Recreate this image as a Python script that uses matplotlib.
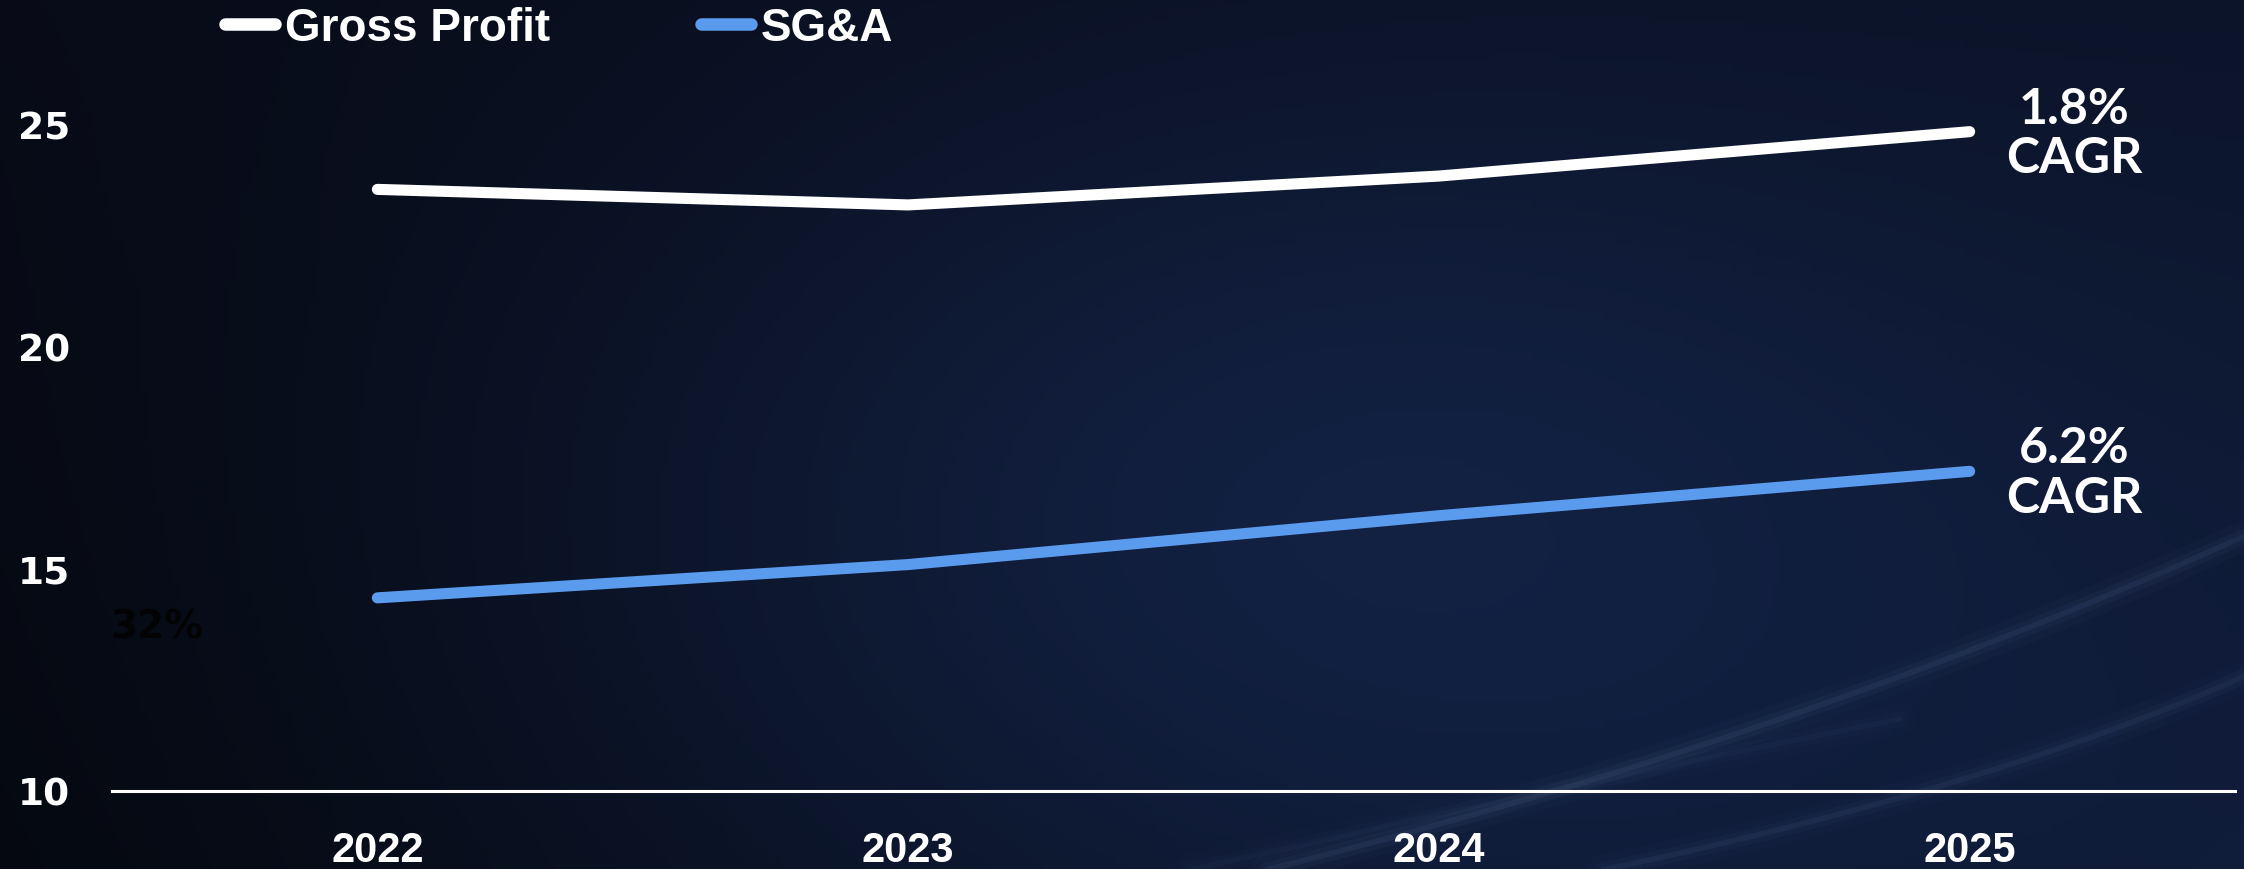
import matplotlib.pyplot as plt
import numpy as np
from matplotlib.colors import to_rgb

# data
years = ["2022", "2023", "2024", "2025"]
gross_profit = [23.55, 23.2, 23.85, 24.85]
sga = [14.35, 15.1, 16.2, 17.2]
cagr_labels = ["1.8%\nCAGR", "6.2%\nCAGR"]
y_ticks = [10, 15, 20, 25]

W, H = 2244, 870
fig = plt.figure(figsize=(W / 100, H / 100), dpi=100)

# background: dark navy gradient with a soft glow and a few light streaks
bg = fig.add_axes([0, 0, 1, 1], zorder=0)
bg.set_axis_off()
xx, yy = np.meshgrid(np.linspace(0, 1, 400), np.linspace(0, 1, 160))
tl, tr = np.array(to_rgb("#080b17")), np.array(to_rgb("#0b1327"))
bl, br = np.array(to_rgb("#05080f")), np.array(to_rgb("#0e1a36"))
img = ((1 - xx)[..., None] * (1 - yy)[..., None] * tl + xx[..., None] * (1 - yy)[..., None] * tr
       + (1 - xx)[..., None] * yy[..., None] * bl + xx[..., None] * yy[..., None] * br)
glow = np.exp(-(((xx - 0.58) / 0.35) ** 2 + ((yy - 0.6) / 0.55) ** 2))
img = img + glow[..., None] * (np.array(to_rgb("#101c38")) - np.array(to_rgb("#080d1a")))
bg.imshow(np.clip(img, 0, 1), extent=(0, W, H, 0), aspect="auto")
t = np.linspace(0, 1, 100)
for p0, p1, p2, a in [((1230, 880), (1800, 740), (2260, 530), 0.07),
                      ((1560, 880), (2000, 790), (2260, 670), 0.06),
                      ((1150, 880), (1500, 800), (1900, 720), 0.03)]:
    cx = (1 - t) ** 2 * p0[0] + 2 * (1 - t) * t * p1[0] + t ** 2 * p2[0]
    cy = (1 - t) ** 2 * p0[1] + 2 * (1 - t) * t * p1[1] + t ** 2 * p2[1]
    for lw, al in [(22, a * 0.35), (11, a * 0.6), (4, a)]:
        bg.plot(cx, cy, color="#8fb0e0", lw=lw, alpha=al, solid_capstyle="round")
bg.set_xlim(0, W)
bg.set_ylim(H, 0)

# main chart
ax = fig.add_axes([112 / W, 78 / H, (2235 - 112) / W, 777 / H], zorder=1)
ax.patch.set_alpha(0)
x = np.arange(len(years))
ax.plot(x, gross_profit, color="white", lw=8, solid_capstyle="round", label="Gross Profit")
ax.plot(x, sga, color="#5a9bee", lw=8, solid_capstyle="round", label="SG&A")

ax.set_xlim(-0.5, 3.5)
ax.set_ylim(10, 27.5)
ax.set_xticks(x)
ax.set_xticklabels(years, fontsize=30, fontweight="bold", color="white", family="Liberation Sans")
ax.set_yticks(y_ticks)
ax.set_yticklabels([str(v) for v in y_ticks], fontsize=27, fontweight="bold", color="white",
                   family="DejaVu Sans")
ax.tick_params(axis="x", length=0, pad=28)
ax.tick_params(axis="y", length=0, pad=30)
for s in ["top", "right", "left"]:
    ax.spines[s].set_visible(False)
ax.spines["bottom"].set_color("white")
ax.spines["bottom"].set_linewidth(2.2)

# CAGR labels at the end of each line
for series, lab in zip([gross_profit, sga], cagr_labels):
    ax.annotate(lab, xy=(x[-1], series[-1]), xytext=(75, -1), textcoords="offset points",
                ha="center", va="center", fontsize=36, fontweight="bold", color="white",
                family="Lato", linespacing=1.12)

# faint leftover label on the slide
ax.text(-0.415, 13.7, "32%", ha="center", va="center", fontsize=28, fontweight="bold",
        color="#030303", family="DejaVu Sans")

leg = fig.legend(loc="center left", bbox_to_anchor=(225 / W, 1 - 29 / H), ncol=2, frameon=False,
                 handlelength=1.1, handletextpad=0.2, columnspacing=3.3, borderpad=0,
                 borderaxespad=0, prop={"family": "Liberation Sans", "weight": "bold", "size": 33})
for txt in leg.get_texts():
    txt.set_color("white")
for h in leg.legend_handles:
    h.set_linewidth(9)
    h.set_solid_capstyle("round")

fig.savefig("out.png", dpi=100)
